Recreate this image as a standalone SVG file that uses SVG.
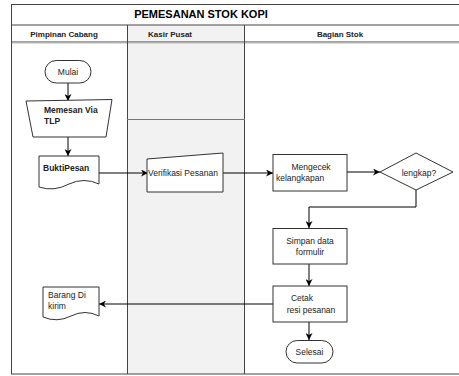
<svg xmlns="http://www.w3.org/2000/svg" width="459" height="376" viewBox="0 0 459 376">
<defs>
<marker id="arr" viewBox="0 0 10 10" refX="10" refY="5" markerWidth="7" markerHeight="7" orient="auto" markerUnits="userSpaceOnUse">
<path d="M0,0 L10,5 L0,10 L3,5 Z" fill="#000"/>
</marker>
</defs>
<style>
.frame{fill:none;stroke:#444;stroke-width:1}
.shape{fill:#fff;stroke:#333;stroke-width:1}
.conn{fill:none;stroke:#000;stroke-width:1}
text{font-family:"Liberation Sans",Arial,sans-serif;font-size:8.5px;fill:#222}
.b{font-weight:bold}
.h{font-size:8px;font-weight:bold}
.title{font-size:11px;font-weight:bold;fill:#000}
</style>
<rect x="0" y="0" width="459" height="376" fill="#fff"/>
<g id="pool">
<rect x="127" y="25" width="117" height="349" fill="#f2f2f2"/>
<line class="frame" x1="11" y1="4.5" x2="459" y2="4.5"/>
<line class="frame" x1="11" y1="25" x2="459" y2="25"/>
<line class="frame" x1="11" y1="42" x2="459" y2="42"/>
<line x1="11" y1="43" x2="459" y2="43" stroke="#bbb" stroke-width="1"/>
<line class="frame" x1="11" y1="374" x2="459" y2="374"/>
<line class="frame" x1="11.5" y1="4" x2="11.5" y2="374"/>
<line class="frame" x1="127.5" y1="25" x2="127.5" y2="374"/>
<line class="frame" x1="244.5" y1="25" x2="244.5" y2="374"/>
<line x1="127" y1="119.5" x2="245" y2="119.5" stroke="#777" stroke-width="1"/>
<text class="title" x="201" y="18" text-anchor="middle">PEMESANAN STOK KOPI</text>
<text class="h" x="64" y="37" text-anchor="middle">Pimpinan Cabang</text>
<text class="h" x="148" y="37">Kasir Pusat</text>
<text class="h" x="340" y="37" text-anchor="middle">Bagian Stok</text>
</g>
<g id="connectors">
<line class="conn" x1="68" y1="83" x2="68" y2="101" marker-end="url(#arr)"/>
<line class="conn" x1="68" y1="137" x2="68" y2="156" marker-end="url(#arr)"/>
<line class="conn" x1="99" y1="173" x2="148" y2="173" marker-end="url(#arr)"/>
<line class="conn" x1="223" y1="173" x2="273" y2="173" marker-end="url(#arr)"/>
<line class="conn" x1="347" y1="172" x2="380" y2="172" marker-end="url(#arr)"/>
<polyline class="conn" points="416,190 416,207 309,207 309,228" marker-end="url(#arr)"/>
<line class="conn" x1="309" y1="264" x2="309" y2="286" marker-end="url(#arr)"/>
<line class="conn" x1="273" y1="304" x2="99" y2="304" marker-end="url(#arr)"/>
<line class="conn" x1="309" y1="322" x2="309" y2="340" marker-end="url(#arr)"/>
</g>
<g id="mulai">
<rect class="shape" x="45" y="60.5" width="46" height="22.5" rx="11.25"/>
<text x="68" y="75" text-anchor="middle">Mulai</text>
</g>
<g id="memesan">
<path class="shape" d="M26,101 L112,99.5 L106,137 L33,137 Z"/>
<text class="b" x="44" y="113">Memesan Via</text>
<text class="b" x="44" y="124">TLP</text>
</g>
<g id="buktipesan">
<path class="shape" d="M39,156 L99,156 L99,184 Q84,177 69,184 Q54,192 39,187 Z"/>
<text class="b" x="43" y="171">BuktiPesan</text>
</g>
<g id="verifikasi">
<path class="shape" d="M147,159 L223,153 L223,192 L147,192 Z"/>
<text x="148" y="176">Verifikasi Pesanan</text>
</g>
<g id="mengecek">
<rect class="shape" x="273" y="154.5" width="74" height="36.5"/>
<text x="311" y="170" text-anchor="middle">Mengecek</text>
<text x="276" y="181">kelangkapan</text>
</g>
<g id="lengkap">
<path class="shape" d="M380,172 L416,153 L453,172 L416,190 Z"/>
<text x="419" y="176" text-anchor="middle">lengkap?</text>
</g>
<g id="simpan">
<rect class="shape" x="273" y="228.5" width="74" height="35.5"/>
<text x="310" y="244" text-anchor="middle">Simpan data</text>
<text x="310" y="255" text-anchor="middle">formulir</text>
</g>
<g id="cetak">
<rect class="shape" x="273" y="286" width="74" height="36"/>
<text x="302" y="301" text-anchor="middle">Cetak</text>
<text x="311" y="313" text-anchor="middle">resi pesanan</text>
</g>
<g id="barang">
<path class="shape" d="M43,287 L99,287 L99,316 Q85,309 71,316 Q57,323 43,317 Z"/>
<text x="48" y="298">Barang Di</text>
<text x="48" y="309">kirim</text>
</g>
<g id="selesai">
<rect class="shape" x="286" y="340.5" width="47" height="22.5" rx="11.25"/>
<text x="309.5" y="355" text-anchor="middle">Selesai</text>
</g>
</svg>
